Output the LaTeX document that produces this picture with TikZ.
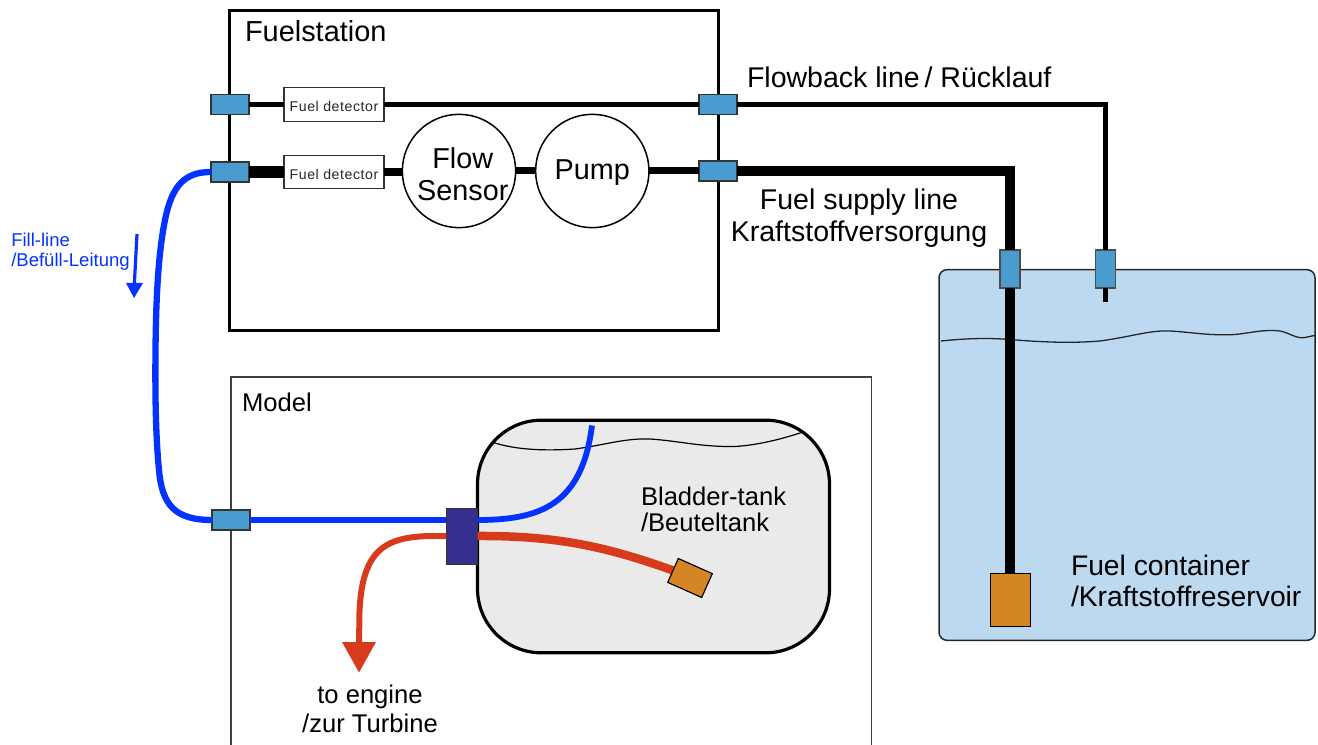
\documentclass[tikz,border=0pt]{standalone}
\usepackage{fontspec}
\setmainfont{Liberation Sans}
\usetikzlibrary{arrows.meta,calc}
\definecolor{conn}{HTML}{4A9BD0}
\definecolor{contfill}{HTML}{BDD9F0}
\definecolor{bladfill}{HTML}{EAEAEA}
\definecolor{fillblue}{HTML}{0433FF}
\definecolor{redline}{HTML}{D83B1B}
\definecolor{orangebox}{HTML}{D48524}
\definecolor{navybox}{HTML}{35308F}
\newcommand{\dettext}{\raisebox{-1.8pt}[\height][\depth]{\addfontfeature{LetterSpace=4}Fuel detector}}
\tikzset{
 px/.style={line width=#1*0.75pt},
 conhoriz/.style={draw=black!80,px=1.5,fill=conn,minimum width=28.5pt,minimum height=15pt,inner sep=0pt,outer sep=0pt},
 convert/.style={draw=black!70,px=1.5,fill=conn,minimum width=15pt,minimum height=28.5pt,inner sep=0pt,outer sep=0pt},
 detector/.style={draw=black!80,px=1.2,fill=white,minimum width=75pt,minimum height=25pt,inner sep=0pt,outer sep=0pt,font=\fontsize{10.6}{11}\selectfont,text=black!85},
 roundel/.style={circle,draw=black,px=1.5,fill=white,minimum size=85pt,inner sep=0pt,outer sep=0pt},
 bigtext/.style={inner sep=0pt,outer sep=0pt,align=center,font=\fontsize{21.6}{23.8}\selectfont},
 lbl/.style={inner sep=0pt,outer sep=0pt,align=left,font=\fontsize{21.2}{23.5}\selectfont},
 lblb/.style={inner sep=0pt,outer sep=0pt,align=center,font=\fontsize{21.4}{23.5}\selectfont},
 lblm/.style={inner sep=0pt,outer sep=0pt,align=left,font=\fontsize{19.2}{20}\selectfont},
 lblc/.style={inner sep=0pt,outer sep=0pt,align=center,font=\fontsize{19.2}{22}\selectfont},
 tiltbox/.style={draw=black,px=1,fill=orangebox,minimum width=27.8pt,minimum height=19.5pt,inner sep=0pt,outer sep=0pt,rotate=-24}
}
\begin{document}
\begin{tikzpicture}[x=0.75pt,y=-0.75pt]
\useasboundingbox (0,0) rectangle (1318,745);
% boxes
\node[draw=black,px=3,minimum width=367pt,minimum height=240pt,inner sep=0pt,outer sep=0pt] (station) at (474,171) {};
\path[draw=black!75,px=1.3] (231,745) -- (231,377) -- (871.5,377) -- (871.5,745);
% container
\node[draw=black!85,px=1.5,fill=contfill,rounded corners=6pt,minimum width=282pt,minimum height=278pt,inner sep=0pt,outer sep=0pt] (container) at (1127,455) {};
\draw[black!85,px=1.3] (941,341) .. controls (970,338) and (990,338) .. (1010,339.5)
  .. controls (1040,342) and (1070,343.5) .. (1100,341)
  .. controls (1130,337) and (1150,330) .. (1170,331)
  .. controls (1190,332) and (1210,336) .. (1235,334.5)
  .. controls (1250,333) and (1265,329) .. (1280,331)
  .. controls (1290,333) and (1296,339) .. (1305,337.5)
  .. controls (1308,337) and (1311,336) .. (1315,335.5);
% bladder tank
\node[draw=black,px=3.2,fill=bladfill,rounded corners=48pt,minimum width=264pt,minimum height=174.5pt,inner sep=0pt,outer sep=0pt] (bladder) at (653.5,536.5) {};
\draw[black,px=1.2] (492,442) .. controls (515,450) and (545,451) .. (575,449)
  .. controls (605,445) and (625,438) .. (650,439)
  .. controls (680,441) and (700,447) .. (735,446.5)
  .. controls (760,445) and (785,438) .. (803,432);
% fittings and parts
\node[conhoriz] (cA) at (230,104.5) {};
\node[conhoriz] (cB) at (230,172) {};
\node[conhoriz] (cC) at (718,104.5) {};
\node[conhoriz] (cD) at (718,171) {};
\node[conhoriz] (cE) at (231,520) {};
\node[convert] (cF) at (1010,269) {};
\node[convert] (cG) at (1105.5,269) {};
\node[detector] (dA) at (334,104.5) {\dettext};
\node[detector] (dB) at (334,172) {\dettext};
\node[roundel] (flow) at (459,171) {};
\node[roundel] (pump) at (592.3,171) {};
\node[bigtext] (flowtext) at (462.8,174) {Flow\\Sensor};
\node[bigtext] (pumptext) at (592.3,173) {Pump};
\node[draw=black!80,px=1,fill=navybox,minimum width=23.5pt,minimum height=42pt,inner sep=0pt,outer sep=0pt] (valve) at (462,536) {};
\node[draw=black,px=1,fill=orangebox,minimum width=30pt,minimum height=39.5pt,inner sep=0pt,outer sep=0pt] (sump) at (1010,600) {};
% lines
\draw[black,px=5] (cA.east) -- (dA.west);
\draw[black,px=5] (dA.east) -- (cC.west);
\draw[black,px=12] (cB.east) -- (dB.west);
\draw[black,px=8] (dB.east) -- (flow.west |- dB.east);
\draw[black,px=7] (flow.east) -- (pump.west);
\draw[black,px=7] (pump.east) -- (cD.west);
\draw[black,px=10,line join=miter] (cD.east) -- (cD.east -| cF.north) -- (cF.north);
\draw[black,px=10] (cF.south) -- (sump.north);
\draw[black,px=5,line join=miter] (cC.east) -- (cC.east -| cG.north) -- (cG.north);
\coordinate (returnend) at (1105.5,302);
\draw[black,px=5] (cG.south) -- (returnend);
% fill line
\draw[fillblue,px=6.3] (cB.west) .. controls (185,172) and (172,185) .. (165,220)
  .. controls (158,255) and (156,300) .. (155.5,350)
  .. controls (155,400) and (156,440) .. (159,470)
  .. controls (162,505) and (175,520) .. (cE.west);
\draw[fillblue,px=6] (cE.east) -- (cE.east -| valve.west);
\coordinate (blueend) at (592,425.5);
\draw[fillblue,px=5.8] (cE.east -| valve.east) .. controls (540,520) and (582,505) .. (blueend);
% red line
\node[tiltbox] (pick) at (690,578) {};
\draw[redline,px=8.5] (valve.east) .. controls (560,535.5) and (610,548) .. (pick.west);
\node[tiltbox] at (690,578) {};
\coordinate (redend) at (359,672.5);
\draw[redline,px=6] (valve.west) -- (430,536) .. controls (385,537) and (362,550) .. (359.5,612) -- (359,644);
\fill[redline] (342,642) -- (376,642) -- (redend) -- cycle;
% small arrow
\coordinate (aS) at (137,234);
\coordinate (aE) at (134,298);
\draw[fillblue,px=3.2] (aS) -- (134.3,285);
\fill[fillblue] (126,283) -- (143,283) -- (aE) -- cycle;
% labels
\node[inner sep=0pt,outer sep=0pt,font=\fontsize{21.7}{23.5}\selectfont,anchor=west] (t1) at (245,31) {Fuelstation};
\node[lblb,anchor=west] (t2) at (747,77) {Flowback line\,/ Rücklauf};
\node[lblb,anchor=north] (t3) at (859,189) {Fuel supply line\\Kraftstoffversorgung};
\node[lblm,anchor=west] (t4) at (242,402.5) {Model};
\node[lblm,anchor=north west] (t5) at (641,486.5) {Bladder-tank\\/Beuteltank};
\node[lblc,anchor=north] (t6) at (370,685) {to engine\\/zur Turbine};
\node[lbl,anchor=north west] (t7) at (1071,555) {Fuel container\\/Kraftstoffreservoir};
\node[inner sep=0pt,align=left,text=fillblue,anchor=north west,font=\fontsize{13.9}{15}\selectfont] (t8) at (11,233) {Fill-line\\/Befüll-Leitung};
\end{tikzpicture}
\end{document}
